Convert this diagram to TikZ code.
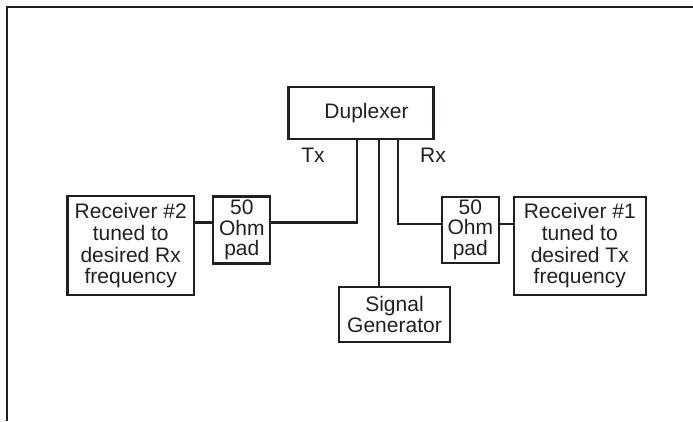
\documentclass[tikz,border=0pt]{standalone}
\usepackage{fontspec}
\setmainfont{Liberation Sans}
\definecolor{ink}{HTML}{231F20}
\begin{document}
\begin{tikzpicture}[x=1pt,y=-1pt,
  box/.style={draw=ink,line width=2.3pt,rectangle,inner sep=0pt,align=center,
    text=ink,font=\fontsize{21}{21.8}\selectfont},
  wire/.style={draw=ink,line width=2.1pt},
  lbl/.style={text=ink,inner sep=0pt,font=\fontsize{21}{22}\selectfont}]
\useasboundingbox (0,0) rectangle (693,421);
\draw[ink,line width=2.7pt] (7,421) -- (7,7) -- (693,7);
\node[box,minimum width=145pt,minimum height=52pt] (dup) at (361,113.3) {\hspace*{11pt}Duplexer};
\node[box,minimum width=126.7pt,minimum height=99pt] (rx2) at (130.7,245.7) {Receiver \#2\\tuned to\\desired Rx\\frequency};
\node[box,minimum width=57pt,minimum height=67pt,font=\fontsize{21}{20.5}\selectfont] (padL) at (241.8,230) {50\\Ohm\\pad};
\node[box,minimum width=57.3pt,minimum height=66pt,font=\fontsize{21}{20.5}\selectfont] (padR) at (470.3,229.7) {50\\Ohm\\pad};
\node[box,minimum width=131.7pt,minimum height=98.3pt] (rx1) at (579.8,245.8) {Receiver \#1\\tuned to\\desired Tx\\frequency};
\node[box,minimum width=111pt,minimum height=54.4pt] (sg) at (394.5,314.5) {Signal\\Generator};
\node[lbl] (tx) at (313,155) {Tx};
\node[lbl] (rxl) at (433,155) {Rx};
\coordinate (tl) at (357.3,222.5);
\coordinate (tr) at (397.7,223.8);
\coordinate (tm) at (379,0);
\draw[wire] (dup.south -| tl) |- (padL.east |- tl);
\draw[wire] (rx2.east |- tl) -- (padL.west |- tl);
\draw[wire] (dup.south -| tr) |- (padR.west |- tr);
\draw[wire] (padR.east |- tr) -- (rx1.west |- tr);
\draw[wire] (dup.south -| tm) -- (sg.north -| tm);
\end{tikzpicture}
\end{document}
